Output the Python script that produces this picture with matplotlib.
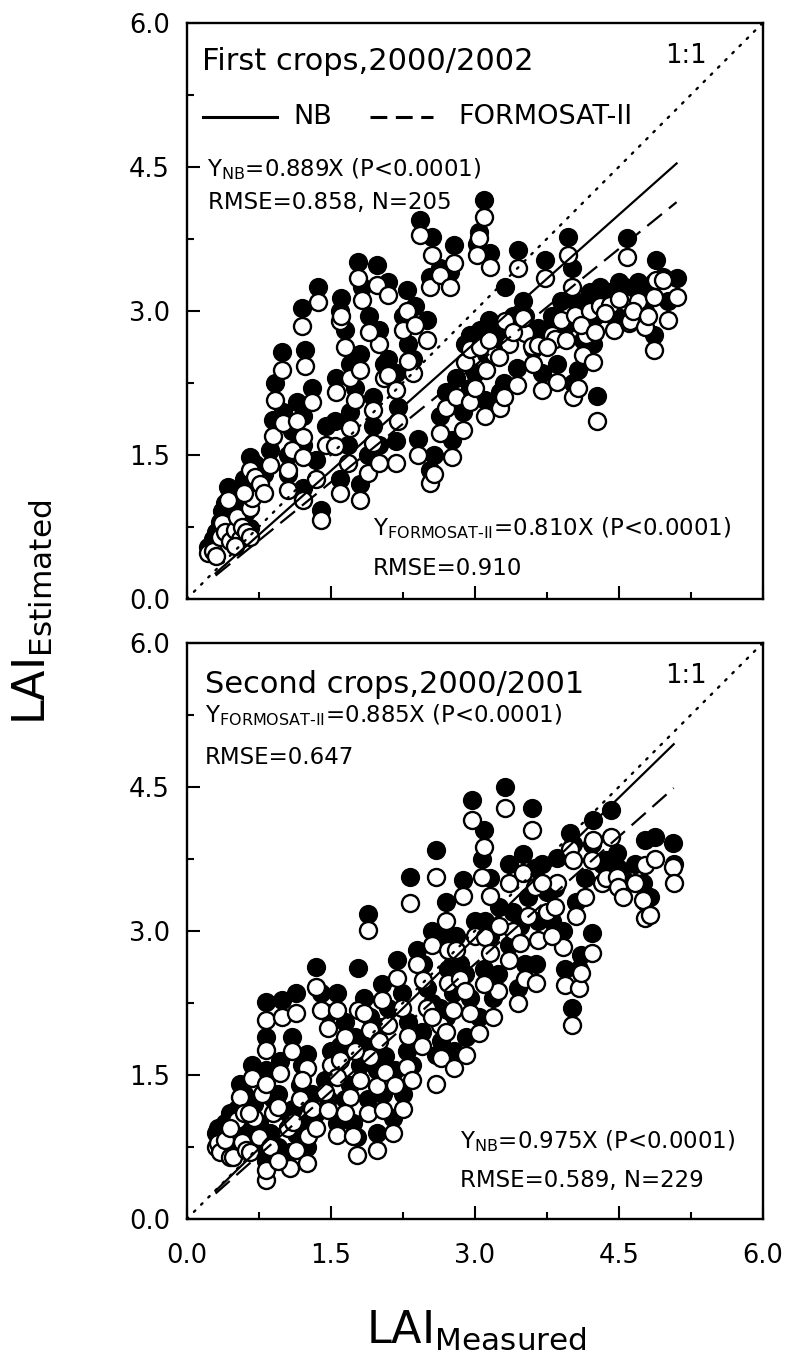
#!/usr/bin/env python3
"""LAI estimated vs measured, NB and FORMOSAT-II, first and second crops."""

import numpy as np
import matplotlib
matplotlib.use('Agg')
import matplotlib.pyplot as plt
from matplotlib.ticker import MultipleLocator

plt.rcParams['font.family'] = ['DejaVu Sans']
plt.rcParams['mathtext.fontset'] = 'dejavusans'

# ============================================================
# Data: measured LAI, NB estimate, FORMOSAT-II estimate
# ============================================================
first_x = [0.22, 0.27, 0.30, 0.35, 0.37, 0.40, 0.43, 0.45, 0.50, 0.52, 0.55, 0.58, 0.62, 0.66, 0.66,
           0.68, 0.66, 0.71, 0.76, 0.80, 0.87, 0.90, 0.92, 0.99, 1.00, 1.05, 1.05, 1.10, 1.15, 1.21,
           1.21, 1.21, 1.20, 1.23, 1.30, 1.37, 1.40, 1.35, 1.45, 1.54, 1.60, 1.60, 1.61, 1.65, 1.68,
           1.70, 1.75, 1.78, 1.80, 1.80, 1.82, 1.89, 1.94, 1.94, 1.98, 2.00, 2.05, 2.10, 2.10, 2.18,
           2.18, 2.25, 2.29, 2.36, 2.38, 2.41, 2.43, 2.50, 2.53, 2.55, 2.57, 2.53, 2.64, 2.64, 2.70,
           2.74, 2.76, 2.78, 2.80, 2.88, 2.90, 2.95, 3.04, 3.02, 3.09, 3.11, 3.12, 3.16, 3.20, 3.26,
           3.31, 3.35, 3.44, 3.45, 3.52, 3.59, 3.66, 3.70, 3.73, 3.80, 3.83, 3.85, 3.90, 3.97, 4.01,
           4.02, 4.04, 4.07, 4.13, 4.16, 4.20, 4.23, 4.27, 4.30, 4.41, 4.45, 4.56, 4.58, 4.60, 4.62,
           4.70, 4.77, 4.86, 4.86, 4.89, 4.96, 5.01, 5.10,
           2.95, 3.05, 3.15, 3.25, 3.40, 3.50, 3.60, 3.75, 3.95, 4.10, 4.25, 4.35, 4.50, 4.65, 4.80,
           3.00, 3.30, 1.55, 1.70, 2.00, 2.20, 2.30, 1.90, 0.50, 0.60]
first_nb = [0.54, 0.62, 0.70, 0.80, 0.92, 1.00, 1.17, 0.85, 0.95, 1.10, 0.80, 1.05, 0.90, 0.74, 1.10,
            1.20, 1.48, 1.40, 1.35, 1.30, 1.55, 1.86, 2.25, 2.57, 1.95, 1.50, 1.30, 1.75, 2.05, 1.90,
            1.60, 1.15, 3.03, 2.59, 2.20, 3.25, 0.93, 1.45, 1.80, 1.85, 3.00, 1.25, 3.13, 2.80, 1.60,
            2.45, 2.20, 3.51, 1.20, 2.55, 3.25, 1.50, 1.80, 2.10, 3.48, 2.80, 2.45, 3.30, 2.50, 1.64,
            2.35, 2.95, 3.22, 2.50, 3.05, 1.66, 3.95, 2.90, 1.34, 3.77, 1.50, 3.35, 1.90, 3.45, 2.15,
            3.40, 1.65, 3.69, 2.30, 1.95, 2.65, 2.20, 3.82, 3.70, 4.15, 2.07, 2.55, 3.60, 2.75, 2.15,
            3.25, 2.85, 2.40, 3.63, 2.95, 2.80, 2.82, 2.35, 3.53, 2.95, 2.88, 2.45, 3.10, 3.77, 3.45,
            2.25, 3.10, 2.38, 2.70, 2.90, 3.20, 2.65, 2.11, 3.25, 3.20, 2.95, 3.25, 3.76, 3.05, 3.05,
            3.30, 3.00, 2.75, 3.30, 3.53, 3.35, 3.10, 3.34,
            2.75, 2.80, 2.90, 2.70, 2.95, 3.10, 2.60, 2.80, 2.85, 3.05, 2.95, 3.15, 3.30, 3.20, 3.15,
            2.35, 2.25, 2.30, 1.95, 1.60, 2.00, 2.65, 2.95, 0.65, 1.25]
first_fs = [0.48, 0.50, 0.45, 0.65, 0.79, 0.70, 1.03, 0.60, 0.72, 0.85, 0.62, 0.75, 0.70, 0.65, 0.95,
            1.05, 1.34, 1.27, 1.20, 1.10, 1.39, 1.70, 2.07, 2.38, 1.83, 1.34, 1.13, 1.55, 1.85, 1.69,
            1.48, 1.03, 2.84, 2.42, 2.05, 3.09, 0.82, 1.25, 1.60, 1.59, 2.89, 1.10, 2.95, 2.62, 1.42,
            2.30, 2.07, 3.34, 1.03, 2.38, 3.11, 1.31, 1.62, 1.97, 3.27, 2.65, 2.30, 3.16, 2.33, 1.42,
            2.18, 2.80, 3.00, 2.35, 2.85, 1.50, 3.79, 2.70, 1.21, 3.58, 1.30, 3.25, 1.73, 3.37, 1.99,
            3.25, 1.48, 3.50, 2.10, 1.76, 2.47, 2.05, 3.76, 3.58, 3.98, 1.90, 2.38, 3.46, 2.55, 1.99,
            2.89, 2.65, 2.23, 3.45, 2.77, 2.63, 2.64, 2.18, 3.34, 2.75, 2.71, 2.26, 2.90, 3.58, 3.25,
            2.10, 2.96, 2.20, 2.54, 2.75, 3.00, 2.47, 1.85, 3.05, 3.06, 2.80, 3.09, 3.56, 2.87, 2.89,
            3.10, 2.83, 2.59, 3.14, 3.32, 3.32, 2.90, 3.14,
            2.60, 2.62, 2.70, 2.52, 2.78, 2.92, 2.45, 2.62, 2.70, 2.85, 2.78, 2.98, 3.12, 3.00, 2.95,
            2.20, 2.10, 2.15, 1.78, 1.42, 1.85, 2.48, 2.78, 0.55, 1.10]

second_x = [0.30, 0.33, 0.35, 0.40, 0.45, 0.48, 0.52, 0.55, 0.58, 0.60, 0.62, 0.66, 0.68, 0.70, 0.75,
            0.78, 0.82, 0.83, 0.83, 0.83, 0.83, 0.87, 0.90, 0.95, 0.97, 0.99, 1.05, 1.08, 1.11, 1.14,
            1.14, 1.18, 1.25, 1.25, 1.26, 1.30, 1.35, 1.40, 1.44, 1.47, 1.47, 1.50, 1.56, 1.56, 1.56,
            1.60, 1.65, 1.70, 1.73, 1.77, 1.78, 1.80, 1.85, 1.89, 1.89, 1.91, 1.91, 1.98, 1.98, 2.03,
            2.04, 2.06, 2.10, 2.15, 2.17, 2.19, 2.24, 2.29, 2.30, 2.32, 2.40, 2.46, 2.50, 2.55, 2.59,
            2.60, 2.65, 2.64, 2.70, 2.72, 2.72, 2.77, 2.78, 2.85, 2.88, 2.90, 2.91, 2.97, 3.00, 3.04,
            3.07, 3.09, 3.11, 3.16, 3.16, 3.19, 3.24, 3.31, 3.35, 3.35, 3.40, 3.47, 3.50, 3.52, 3.59,
            3.63, 3.64, 3.66, 3.75, 3.83, 3.85, 3.92, 3.94, 3.99, 4.01, 4.02, 4.08, 4.11, 4.22, 4.22,
            4.23, 4.32, 4.37, 4.42, 4.48, 4.49, 4.54, 4.67, 4.75, 4.77, 4.77, 4.82, 4.88, 5.06, 5.07,
            1.20, 1.35, 1.65, 1.75, 2.00, 2.25, 2.35, 2.45, 2.55, 2.70, 2.80, 2.95, 3.10, 3.25, 3.45,
            3.55, 3.70, 3.80, 4.05, 4.15, 0.65, 0.45, 0.95, 1.10]
second_nb = [0.90, 0.95, 0.85, 1.00, 0.80, 0.78, 1.15, 1.41, 0.95, 1.30, 0.88, 0.85, 1.60, 1.20, 1.00,
             1.50, 0.60, 0.70, 1.55, 1.90, 2.26, 0.90, 1.25, 1.30, 1.65, 2.28, 1.10, 0.70, 1.15, 0.88,
             2.35, 1.40, 1.72, 0.75, 1.00, 1.30, 2.62, 2.35, 1.45, 1.25, 2.15, 1.75, 1.00, 1.62, 2.35,
             1.80, 2.05, 1.40, 1.00, 0.85, 2.61, 1.60, 2.30, 3.18, 1.25, 1.85, 2.10, 0.90, 1.55, 2.45,
             1.30, 1.70, 2.20, 1.05, 1.55, 2.70, 2.35, 1.75, 2.05, 3.56, 2.80, 2.65, 2.40, 3.00, 3.84,
             1.71, 1.85, 2.20, 3.30, 2.95, 2.60, 2.35, 1.75, 2.65, 3.53, 2.55, 1.90, 4.36, 3.10, 2.10,
             3.75, 4.05, 3.10, 2.95, 3.55, 2.30, 2.55, 4.50, 3.70, 2.85, 3.20, 3.05, 3.80, 2.66, 4.28,
             3.65, 2.65, 3.10, 3.40, 3.45, 3.76, 3.00, 2.60, 4.02, 2.20, 3.90, 2.60, 2.75, 2.98, 3.90,
             4.15, 3.70, 3.74, 4.26, 3.81, 3.65, 3.55, 3.70, 3.50, 3.95, 3.30, 3.35, 3.98, 3.91, 3.70,
             1.60, 1.10, 1.25, 1.90, 2.00, 1.30, 1.60, 1.95, 2.25, 2.10, 2.95, 2.30, 2.60, 3.25, 2.40,
             3.35, 3.70, 3.10, 3.30, 3.55, 1.25, 1.10, 0.75, 1.90]
second_fs = [0.75, 0.79, 0.70, 0.82, 0.65, 0.65, 1.03, 1.27, 0.80, 1.10, 0.72, 0.70, 1.47, 1.05, 0.85,
             1.30, 0.41, 0.51, 1.41, 1.76, 2.07, 0.75, 1.10, 1.17, 1.52, 2.10, 0.95, 0.53, 1.01, 0.72,
             2.14, 1.25, 1.57, 0.58, 0.86, 1.15, 2.42, 2.18, 1.32, 1.13, 1.99, 1.60, 0.87, 1.48, 2.18,
             1.66, 1.90, 1.27, 0.86, 0.67, 2.18, 1.45, 2.15, 3.01, 1.10, 1.69, 1.97, 0.72, 1.38, 2.28,
             1.13, 1.53, 2.02, 0.90, 1.39, 2.51, 2.20, 1.58, 1.91, 3.29, 2.65, 2.49, 2.20, 2.85, 3.56,
             1.41, 1.68, 2.02, 3.10, 2.80, 2.46, 2.18, 1.57, 2.50, 3.36, 2.37, 1.71, 4.15, 2.95, 1.94,
             3.56, 3.87, 2.94, 2.77, 3.36, 2.10, 2.37, 4.28, 3.50, 2.70, 3.00, 2.87, 3.60, 2.50, 4.05,
             3.46, 2.46, 2.90, 3.20, 3.25, 3.50, 2.83, 2.44, 3.85, 2.02, 3.74, 2.41, 2.56, 2.77, 3.74,
             3.95, 3.50, 3.55, 3.98, 3.56, 3.46, 3.35, 3.50, 3.32, 3.69, 3.13, 3.16, 3.75, 3.66, 3.50,
             1.45, 0.95, 1.10, 1.75, 1.85, 1.15, 1.45, 1.80, 2.10, 1.95, 2.80, 2.15, 2.45, 3.05, 2.25,
             3.15, 3.50, 2.95, 3.15, 3.35, 1.10, 0.95, 0.60, 1.75]

# regression slopes and fitted line range
panels = [
    dict(x=first_x, nb=first_nb, fs=first_fs, slope_nb=0.889, slope_fs=0.810, xfit=(0.3, 5.1),
         title='First crops,2000/2002'),
    dict(x=second_x, nb=second_nb, fs=second_fs, slope_nb=0.975, slope_fs=0.885, xfit=(0.3, 5.07),
         title='Second crops,2000/2001'),
]

fig = plt.figure(figsize=(7.88, 13.64), dpi=100)
ax_top = fig.add_axes([0.237, 0.5609, 0.7313, 0.4225])
ax_bot = fig.add_axes([0.237, 0.1063, 0.7313, 0.4225])

MS = 150
for ax, p in zip([ax_top, ax_bot], panels):
    ax.scatter(p['x'], p['nb'], s=MS, c='black', edgecolors='black', linewidths=1.6, zorder=2)
    ax.scatter(p['x'], p['fs'], s=MS, c='white', edgecolors='black', linewidths=1.7, zorder=3)

    xf = np.array(p['xfit'])
    ax.plot([0, 6], [0, 6], color='black', lw=1.7, linestyle=(0, (0.8, 3.5)),
            dash_capstyle='round', zorder=4)
    ax.plot(xf, p['slope_nb'] * xf, color='black', lw=1.6, zorder=4)
    ax.plot(xf, p['slope_fs'] * xf, color='black', lw=1.6, linestyle=(0, (8.5, 4)), zorder=4)

    ax.set_xlim(0, 6)
    ax.set_ylim(0, 6)
    ax.xaxis.set_major_locator(MultipleLocator(1.5))
    ax.xaxis.set_minor_locator(MultipleLocator(0.75))
    ax.yaxis.set_major_locator(MultipleLocator(1.5))
    ax.yaxis.set_minor_locator(MultipleLocator(0.75))
    ax.xaxis.set_major_formatter(plt.FormatStrFormatter('%.1f'))
    ax.yaxis.set_major_formatter(plt.FormatStrFormatter('%.1f'))
    ax.tick_params(which='both', direction='in', top=False, right=False, width=1.5)
    ax.tick_params(which='major', length=9.5)
    ax.tick_params(which='minor', length=5)
    ax.tick_params(axis='y', which='major', labelsize=18.5, pad=12)
    ax.tick_params(axis='x', which='major', labelsize=18.5, pad=17)
    for sp in ax.spines.values():
        sp.set_linewidth(1.7)

    ax.text(0.83, 0.93, '1:1', transform=ax.transAxes, fontsize=18.5, va='baseline')

ax_top.tick_params(axis='x', labelbottom=False)

# ---- top panel annotations
ax_top.text(0.026, 0.918, panels[0]['title'], transform=ax_top.transAxes, fontsize=22, va='baseline')
ax_top.plot([0.029, 0.156], [0.837, 0.837], transform=ax_top.transAxes, color='black', lw=2.2)
ax_top.text(0.185, 0.824, 'NB', transform=ax_top.transAxes, fontsize=19.5, va='baseline')
ax_top.plot([0.318, 0.427], [0.837, 0.837], transform=ax_top.transAxes, color='black', lw=2.2,
            linestyle=(0, (5.5, 2.8)))
ax_top.text(0.471, 0.824, 'FORMOSAT-II', transform=ax_top.transAxes, fontsize=19.5, va='baseline')
ax_top.text(0.035, 0.733, r'Y$_{\mathregular{NB}}$=0.889X (P<0.0001)', transform=ax_top.transAxes,
            fontsize=16.5, va='baseline')
ax_top.text(0.0375, 0.677, 'RMSE=0.858, N=205', transform=ax_top.transAxes, fontsize=16.5, va='baseline')
ax_top.text(0.323, 0.111, r'Y$_{\mathregular{FORMOSAT\text{-}II}}$=0.810X (P<0.0001)',
            transform=ax_top.transAxes, fontsize=16.5, va='baseline')
ax_top.text(0.323, 0.0416, 'RMSE=0.910', transform=ax_top.transAxes, fontsize=16.5, va='baseline')

# ---- bottom panel annotations
ax_bot.text(0.032, 0.912, panels[1]['title'], transform=ax_bot.transAxes, fontsize=22, va='baseline')
ax_bot.text(0.032, 0.863, r'Y$_{\mathregular{FORMOSAT\text{-}II}}$=0.885X (P<0.0001)',
            transform=ax_bot.transAxes, fontsize=16.5, va='baseline')
ax_bot.text(0.032, 0.79, 'RMSE=0.647', transform=ax_bot.transAxes, fontsize=16.5, va='baseline')
ax_bot.text(0.474, 0.1227, r'Y$_{\mathregular{NB}}$=0.975X (P<0.0001)', transform=ax_bot.transAxes,
            fontsize=16.5, va='baseline')
ax_bot.text(0.474, 0.056, 'RMSE=0.589, N=229', transform=ax_bot.transAxes, fontsize=16.5, va='baseline')

# ---- shared axis labels
fig.text(476 / 788, 1 - 1343 / 1364, r'LAI$_{\mathregular{Measured}}$', fontsize=32,
         ha='center', va='baseline')
fig.text(45 / 788, 1 - 612 / 1364, r'LAI$_{\mathregular{Estimated}}$', fontsize=32,
         ha='center', va='baseline', rotation=90, rotation_mode='anchor')

fig.savefig('out.png', dpi=100)
plt.close(fig)
